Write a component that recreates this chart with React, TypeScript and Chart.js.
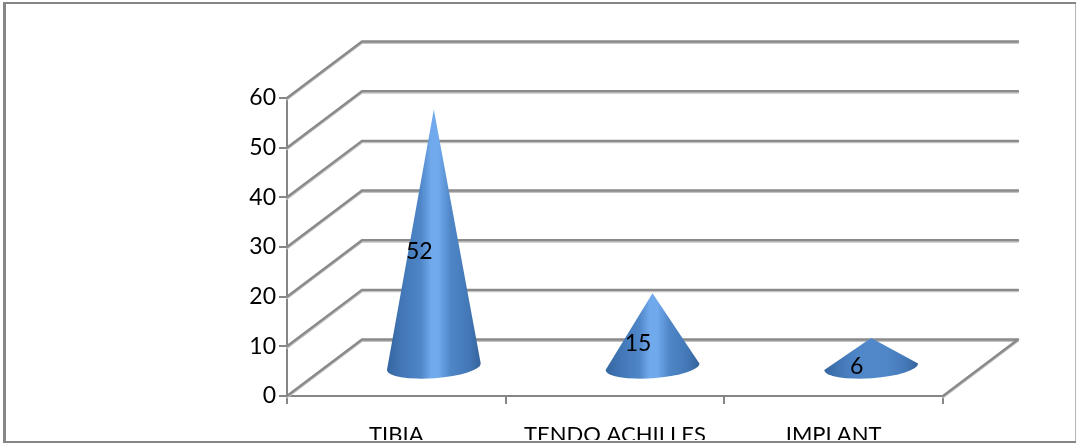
import React, { useEffect, useRef } from "react";
import { Chart, registerables } from "chart.js";

Chart.register(...registerables);

const categories = ["TIBIA", "TENDO ACHILLES", "IMPLANT"];
const cases = [52, 15, 6];
const yMax = 60;
const yStep = 10;

const GREY = "#868686";
const FONT = "Lato, Carlito, sans-serif";
// Receding offset of the 3D floor and walls, in pixels.
const DEPTH_X = 75;
const DEPTH_Y = 56.5;

// Back wall grid lines and the diagonals running from the front axis to the wall.
const wallPlugin = {
  id: "wall",
  beforeDatasetsDraw(chart: any) {
    const { ctx, chartArea, scales } = chart;
    ctx.save();
    ctx.lineCap = "round";
    const stroke = (color: string, width: number, dy: number) => {
      ctx.strokeStyle = color;
      ctx.lineWidth = width;
      ctx.beginPath();
      for (const tick of scales.y.ticks) {
        const y = scales.y.getPixelForValue(tick.value) + dy;
        ctx.moveTo(chartArea.left, y);
        ctx.lineTo(chartArea.left + DEPTH_X, y - DEPTH_Y);
        ctx.lineTo(chartArea.right + DEPTH_X, y - DEPTH_Y);
      }
      const floor = scales.y.getPixelForValue(0) + dy;
      ctx.moveTo(chartArea.right, floor);
      ctx.lineTo(chartArea.right + DEPTH_X, floor - DEPTH_Y);
      ctx.stroke();
    };
    stroke("#c4c4c4", 2, 1.5);
    stroke("#8a8a8a", 2.4, 0);
    ctx.restore();
  },
};

// Each bar is drawn as a shaded cone standing halfway into the floor.
const conePlugin = {
  id: "cones",
  afterDatasetsDraw(chart: any) {
    const { ctx } = chart;
    const bars = chart.getDatasetMeta(0).data;
    bars.forEach((bar: any, i: number) => {
      const cx = bar.x + DEPTH_X / 2;
      const apexY = bar.y - DEPTH_Y / 2;
      const baseY = bar.base - DEPTH_Y / 2;
      const rx = bar.width / 2;
      const ry = 11.5;
      const tilt = (-4 * Math.PI) / 180;
      // Very flat cones catch no bright highlight along their axis.
      const highlight = bar.base - bar.y > 40 ? "#70a9ec" : "#5088ca";

      const shade = ctx.createLinearGradient(cx - rx, 0, cx + rx, 0);
      shade.addColorStop(0, "#34659f");
      shade.addColorStop(0.16, "#4277b6");
      shade.addColorStop(0.36, "#4f86c8");
      shade.addColorStop(0.47, highlight);
      shade.addColorStop(0.55, highlight);
      shade.addColorStop(0.68, "#4f86c6");
      shade.addColorStop(0.86, "#4479b8");
      shade.addColorStop(1, "#33639c");

      ctx.save();
      ctx.fillStyle = shade;
      ctx.beginPath();
      ctx.moveTo(cx, apexY);
      ctx.lineTo(cx + rx * Math.cos(tilt), baseY + rx * Math.sin(tilt));
      ctx.ellipse(cx, baseY, rx, ry, tilt, 0, Math.PI);
      ctx.closePath();
      ctx.fill();
      ctx.restore();

      ctx.save();
      ctx.fillStyle = "#000000";
      ctx.font = `23px ${FONT}`;
      ctx.textAlign = "center";
      ctx.textBaseline = "middle";
      ctx.fillText(String(cases[i]), bar.x + 23, (bar.y + bar.base) / 2 - 14.5);
      ctx.restore();
    });
  },
};

// Outer frame of the picture; its lower edge trims the category labels.
const framePlugin = {
  id: "frame",
  afterDraw(chart: any) {
    const { ctx, width, height } = chart;
    ctx.save();
    ctx.fillStyle = "#ffffff";
    ctx.fillRect(0, height - 3, width, 3);
    ctx.fillStyle = GREY;
    ctx.fillRect(3, 2, 3, height - 2);
    ctx.fillRect(3, 2, width - 3, 2);
    ctx.fillRect(3, height - 2, width - 3, 2);
    ctx.fillStyle = "#b4b4b4";
    ctx.fillRect(width - 1, 4, 1, height - 6);
    ctx.restore();
  },
};

export default function App() {
  const ref = useRef<HTMLCanvasElement>(null);

  useEffect(() => {
    const chart = new Chart(ref.current!, {
      type: "bar",
      data: {
        labels: categories,
        datasets: [
          {
            data: cases,
            backgroundColor: "rgba(0,0,0,0)",
            borderWidth: 0,
            categoryPercentage: 1,
            barPercentage: 0.43,
          },
        ],
      },
      options: {
        responsive: false,
        animation: false,
        layout: { padding: { top: 98, right: 133, left: 0, bottom: 0 } },
        plugins: { legend: { display: false }, tooltip: { enabled: false } },
        scales: {
          x: {
            afterFit: (s: any) => {
              s.height = 47;
            },
            grid: { drawOnChartArea: false, color: GREY, lineWidth: 2, tickLength: 8 },
            border: { color: GREY, width: 2 },
            ticks: {
              font: { family: FONT, size: 22 },
              color: "#000000",
              padding: 18,
              maxRotation: 0,
              autoSkip: false,
            },
          },
          y: {
            min: 0,
            max: yMax,
            afterFit: (s: any) => {
              s.width = 287;
            },
            grid: { drawOnChartArea: false, color: GREY, lineWidth: 2, tickLength: 8 },
            border: { color: GREY, width: 2 },
            ticks: {
              stepSize: yStep,
              font: { family: FONT, size: 23 },
              color: "#000000",
              padding: 3,
            },
          },
        },
      },
      plugins: [wallPlugin, conePlugin, framePlugin],
    });
    return () => chart.destroy();
  }, []);

  return (
    <div style={{ position: "absolute", left: 0, top: 0 }}>
      <canvas ref={ref} width={1076} height={443} style={{ display: "block" }} />
    </div>
  );
}
